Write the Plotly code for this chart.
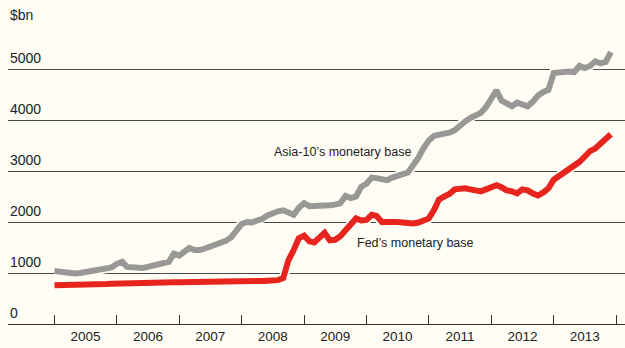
import pandas as pd
import plotly.graph_objects as go

# Monthly observations, Jan 2005 - Dec 2013
dates = pd.date_range("2005-01-01", periods=108, freq="MS")

asia10 = [1040, 1030, 1010, 990, 990, 1000, 1020, 1040, 1060, 1090, 1100, 1110,
          1180, 1220, 1120, 1110, 1100, 1100, 1120, 1140, 1170, 1200, 1220, 1380,
          1340, 1420, 1490, 1450, 1450, 1480, 1510, 1550, 1580, 1630, 1700, 1820,
          1960, 2000, 1990, 2030, 2060, 2130, 2180, 2210, 2230, 2200, 2140, 2280,
          2370, 2310, 2310, 2320, 2330, 2330, 2340, 2370, 2510, 2470, 2500, 2690,
          2750, 2870, 2860, 2840, 2820, 2870, 2920, 2940, 2970, 3100, 3260, 3450,
          3600, 3690, 3700, 3720, 3750, 3800, 3900, 3970, 4040, 4090, 4140, 4250,
          4420, 4580, 4380, 4330, 4270, 4340, 4320, 4270, 4360, 4480, 4550, 4590,
          4920, 4920, 4940, 4950, 4940, 5060, 5020, 5060, 5150, 5110, 5140, 5330]

fed = [760, 760, 765, 765, 770, 770, 775, 775, 780, 785, 785, 790,
       795, 795, 800, 800, 805, 805, 805, 810, 810, 815, 815, 820,
       820, 820, 825, 825, 825, 830, 830, 830, 835, 835, 835, 840,
       840, 840, 845, 845, 845, 850, 850, 860, 900, 1250, 1450, 1680,
       1730, 1620, 1600, 1700, 1790, 1640, 1650, 1720, 1840, 1960, 2070, 2030,
       2040, 2140, 2120, 2000, 2010, 2000, 2000, 1980, 1960, 1970, 1990, 2030,
       2070, 2240, 2440, 2500, 2550, 2640, 2660, 2660, 2640, 2620, 2600, 2640,
       2670, 2720, 2680, 2620, 2600, 2560, 2640, 2620, 2560, 2520, 2580, 2660,
       2830, 2900, 2960, 3020, 3080, 3180, 3280, 3390, 3440, 3530, 3620, 3720]

year_labels = ["2005", "2006", "2007", "2008", "2009", "2010", "2011", "2012", "2013"]
year_starts = [f"{y}-01-01" for y in range(2005, 2015)]
year_mids = [f"{y}-07-02" for y in year_labels]
y_ticks = [0, 1000, 2000, 3000, 4000, 5000]

BG = "#fffdf4"
FONT = "Liberation Sans, Arial, sans-serif"
TXT = "#222222"

fig = go.Figure()
# halos
fig.add_trace(go.Scatter(x=dates, y=asia10, mode="lines",
                         line=dict(color=BG, width=9.5), hoverinfo="skip", showlegend=False))
fig.add_trace(go.Scatter(x=dates, y=asia10, mode="lines",
                         line=dict(color="#999896", width=6), showlegend=False,
                         name="Asia-10's monetary base"))
fig.add_trace(go.Scatter(x=dates, y=fed, mode="lines",
                         line=dict(color=BG, width=9.5), hoverinfo="skip", showlegend=False))
fig.add_trace(go.Scatter(x=dates, y=fed, mode="lines",
                         line=dict(color="#e8241f", width=6), showlegend=False,
                         name="Fed's monetary base"))

annotations = []
for v in y_ticks:
    annotations.append(dict(x=0, xref="paper", y=v, yref="y", text=str(v),
                            showarrow=False, xanchor="left", yanchor="bottom",
                            yshift=1, font=dict(family=FONT, size=14, color=TXT)))
annotations.append(dict(x=0, xref="paper", y=1 - 15 / 324, yref="paper", text="$bn",
                        showarrow=False, xanchor="left", yanchor="middle",
                        font=dict(family=FONT, size=14, color=TXT)))
annotations.append(dict(x="2008-06-28", y=3373, text="Asia-10’s monetary base",
                        showarrow=False, xanchor="left", yanchor="middle",
                        font=dict(family=FONT, size=12.5, color=TXT)))
annotations.append(dict(x="2009-10-28", y=1588, text="Fed’s monetary base",
                        showarrow=False, xanchor="left", yanchor="middle",
                        font=dict(family=FONT, size=12.5, color=TXT)))

fig.update_layout(
    width=625, height=348,
    margin=dict(l=8, r=0, t=0, b=24),
    paper_bgcolor=BG, plot_bgcolor=BG,
    annotations=annotations,
    xaxis=dict(
        type="date",
        range=["2004-04-04", "2014-02-22"],
        tickvals=year_mids, ticktext=year_labels,
        ticks="", showgrid=False, zeroline=False,
        showline=True, linecolor="#333333", linewidth=1.3,
        tickfont=dict(family=FONT, size=13.5, color=TXT),
        minor=dict(tickvals=year_starts, ticks="inside", ticklen=9,
                   tickcolor="#333333", tickwidth=1.2, showgrid=False),
        fixedrange=True,
    ),
    yaxis=dict(
        range=[0, 6353],
        tickvals=y_ticks, showticklabels=False, ticks="",
        showgrid=True, gridcolor="#4a4a4a", gridwidth=1,
        zeroline=False, showline=False, fixedrange=True,
    ),
)

fig.write_html("out.html")
